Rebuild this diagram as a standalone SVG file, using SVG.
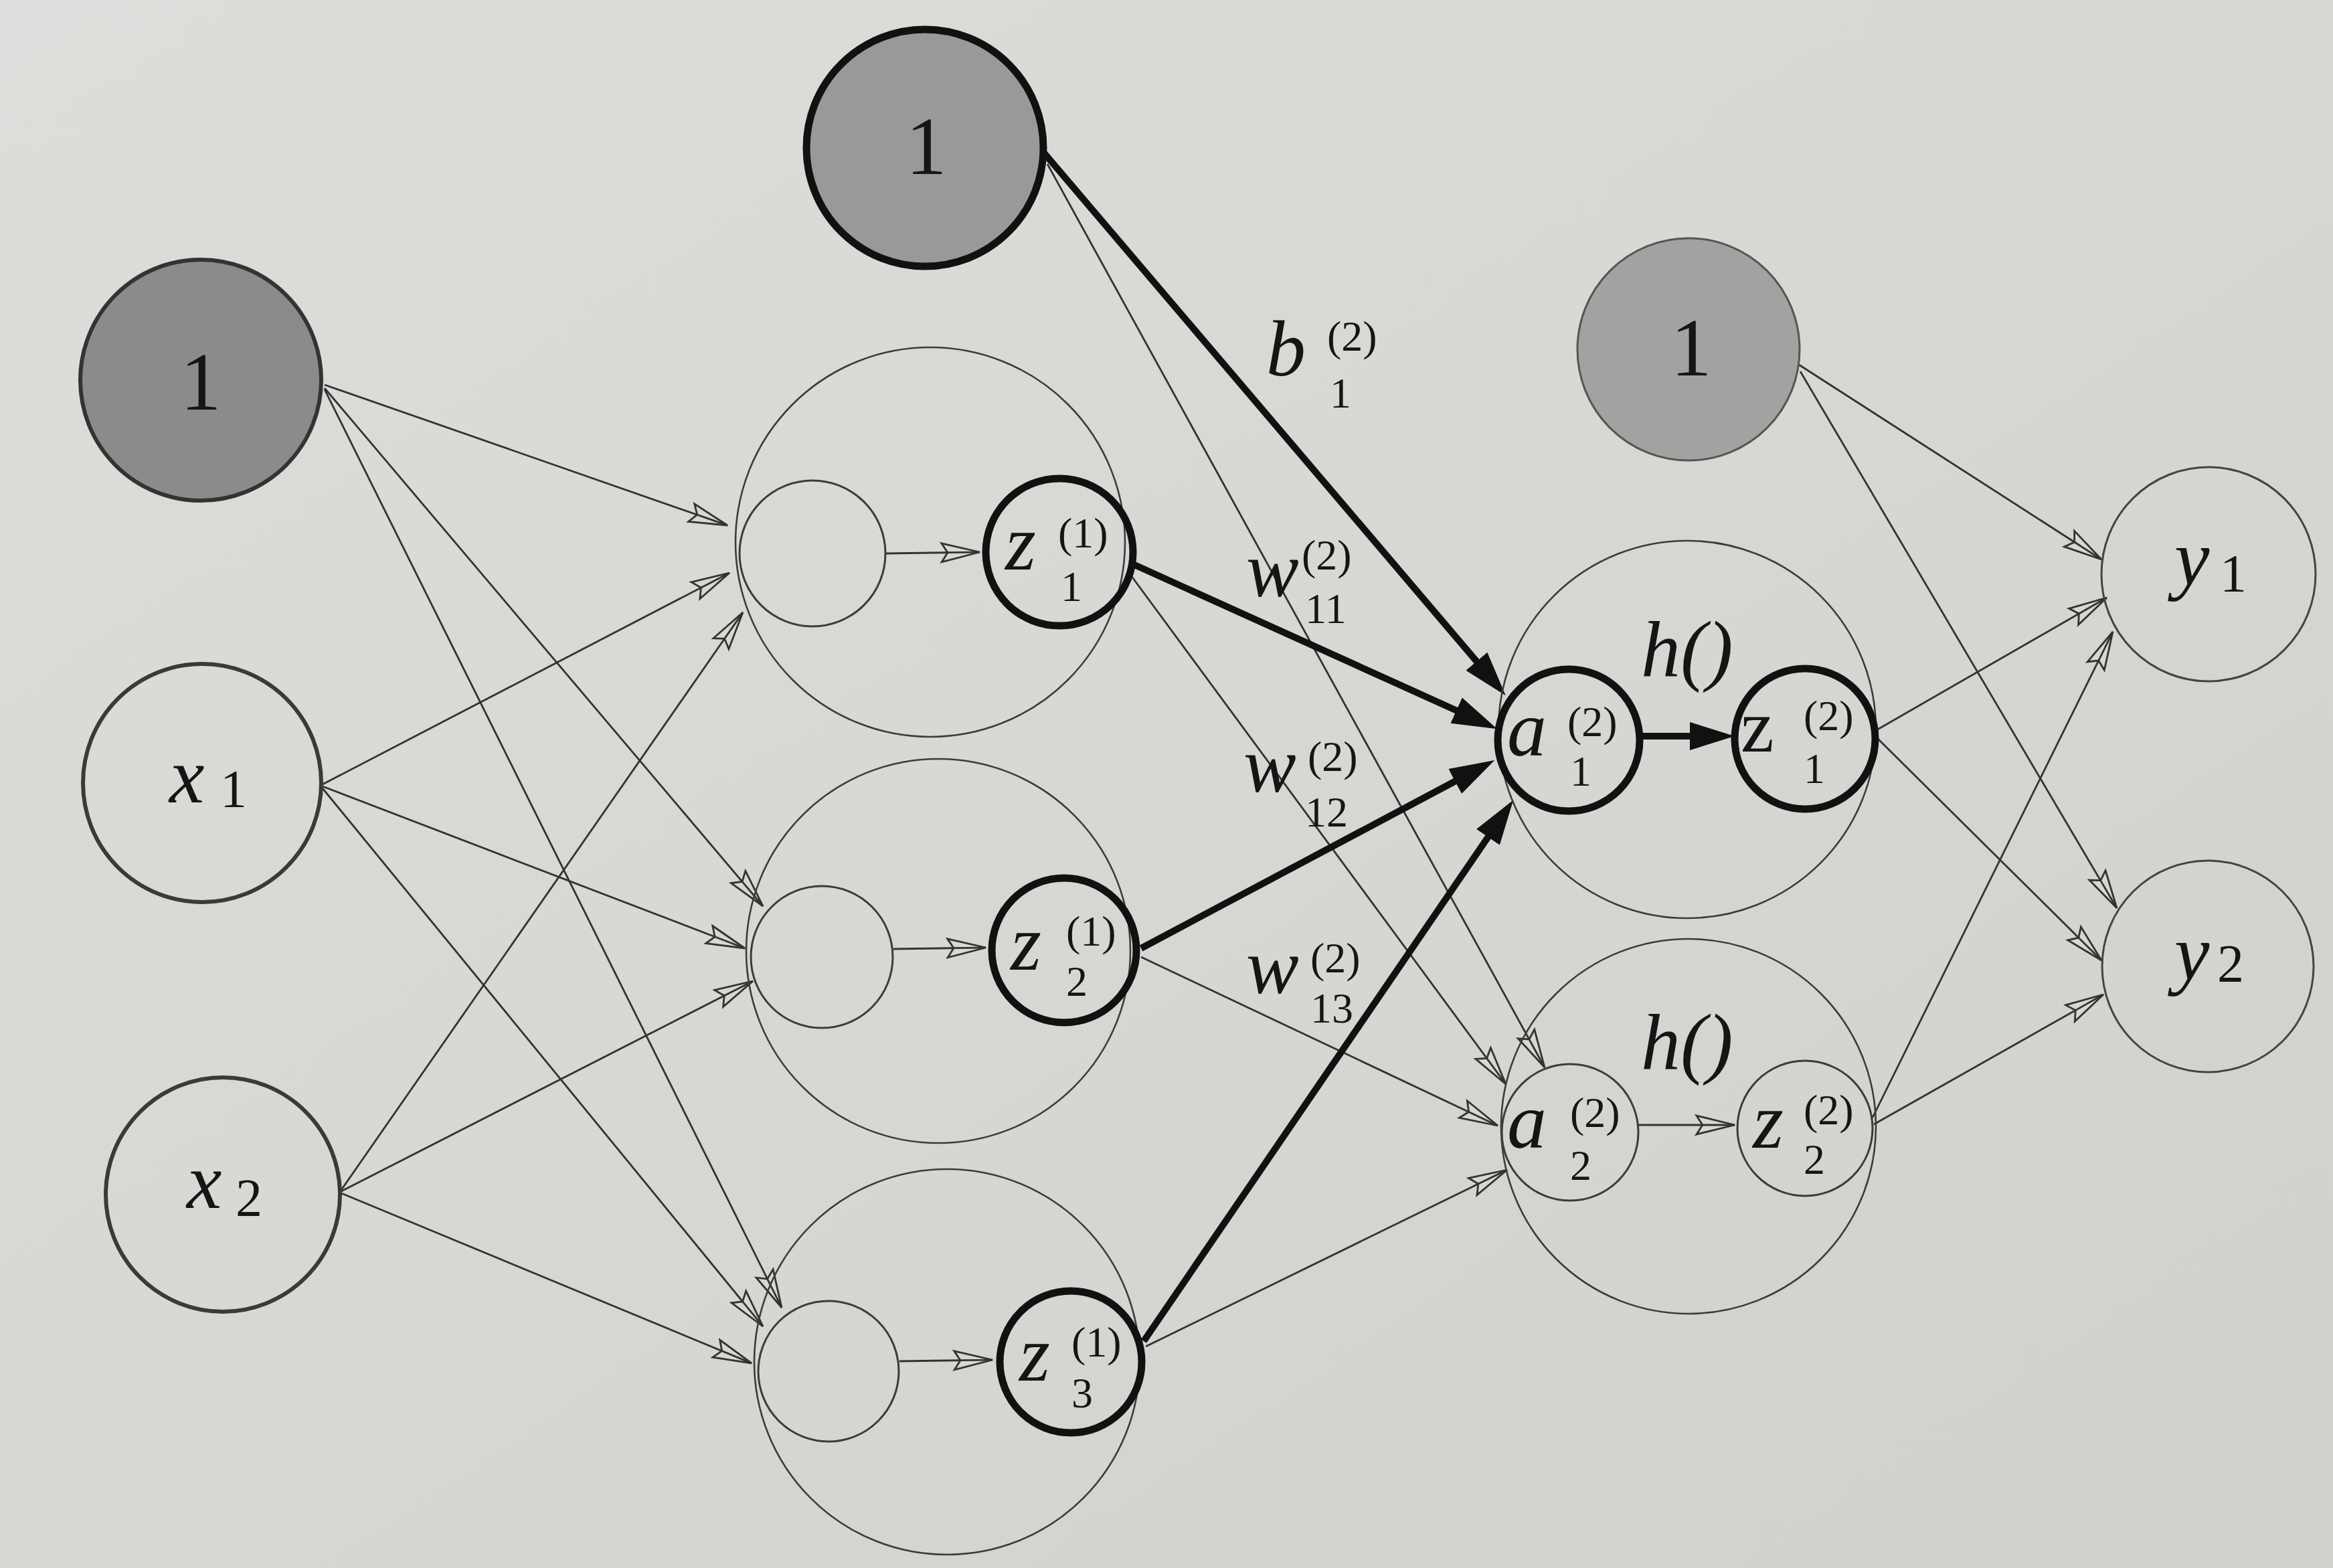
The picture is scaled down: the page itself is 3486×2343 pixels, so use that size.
<svg xmlns="http://www.w3.org/2000/svg" width="3486" height="2343" viewBox="0 0 3486 2343">
<defs>
<linearGradient id="paper" x1="0" y1="0" x2="1" y2="1">
<stop offset="0" stop-color="#dedddb"/>
<stop offset="0.5" stop-color="#d8d7d3"/>
<stop offset="1" stop-color="#d1d0cc"/>
</linearGradient>
<marker id="hollow" markerUnits="userSpaceOnUse" markerWidth="64" markerHeight="34" viewBox="0 0 64 34" refX="60" refY="17" orient="auto">
<path d="M3,3 L60,17 L3,31 L12,17 Z" fill="#d8d7d3" stroke="#333" stroke-width="2.8" stroke-linejoin="miter"/>
<path d="M12,17 L58,17" stroke="#333" stroke-width="2.8"/>
</marker>
<marker id="solid" markerUnits="userSpaceOnUse" markerWidth="68" markerHeight="44" viewBox="0 0 68 44" refX="1" refY="22" orient="auto">
<path d="M0,1 L67,22 L0,43 Z" fill="#111"/>
</marker>
</defs>
<style>
.thin{fill:none;stroke:#333;stroke-width:2.8;marker-end:url(#hollow)}
.thick{fill:none;stroke:#111;stroke-width:10;marker-end:url(#solid)}
.outer{fill:none;stroke:#3c3c3c;stroke-width:2.6}
.inner{fill:none;stroke:#3c3c3c;stroke-width:3}
.bold{fill:none;stroke:#111;stroke-width:11}
.input{fill:none;stroke:#3a3a3a;stroke-width:6}
.out{fill:none;stroke:#444;stroke-width:3}
text{font-family:"Liberation Serif","Times New Roman",serif;fill:#151515}
.it{font-style:italic;font-size:118px}
.num{font-size:122px}
.sup{font-size:64px}
.sub{font-size:80px}
</style>
<rect x="0" y="0" width="3486" height="2343" fill="url(#paper)"/>

<g id="connectors">
<line class="thin" x1="485" y1="575" x2="1087" y2="785"/>
<line class="thin" x1="485" y1="580" x2="1140" y2="1354"/>
<line class="thin" x1="485" y1="582" x2="1168" y2="1954"/>
<line class="thin" x1="482" y1="1172" x2="1090" y2="856"/>
<line class="thin" x1="482" y1="1175" x2="1113" y2="1417"/>
<line class="thin" x1="482" y1="1178" x2="1140" y2="1982"/>
<line class="thin" x1="510" y1="1778" x2="1110" y2="915"/>
<line class="thin" x1="510" y1="1780" x2="1125" y2="1466"/>
<line class="thin" x1="510" y1="1783" x2="1123" y2="2037"/>
<line class="thin" x1="1324" y1="827" x2="1464" y2="825"/>
<line class="thin" x1="1335" y1="1418" x2="1473" y2="1416"/>
<line class="thin" x1="1344" y1="2034" x2="1483" y2="2032"/>
<line class="thin" x1="1565" y1="245" x2="2308" y2="1595"/>
<line class="thin" x1="1690" y1="860" x2="2250" y2="1620"/>
<line class="thin" x1="1705" y1="1430" x2="2238" y2="1682"/>
<line class="thin" x1="1712" y1="2012" x2="2252" y2="1748"/>
<line class="thin" x1="2448" y1="1681" x2="2592" y2="1681"/>
<line class="thin" x1="2688" y1="545" x2="3140" y2="836"/>
<line class="thin" x1="2690" y1="555" x2="3163" y2="1357"/>
<line class="thin" x1="2802" y1="1092" x2="3148" y2="893"/>
<line class="thin" x1="2806" y1="1104" x2="3140" y2="1435"/>
<line class="thin" x1="2798" y1="1670" x2="3157" y2="944"/>
<line class="thin" x1="2800" y1="1680" x2="3143" y2="1486"/>
<line class="thick" x1="1557" y1="225" x2="2207" y2="989"/>
<line class="thick" x1="1693" y1="843" x2="2177" y2="1062"/>
<line class="thick" x1="1705" y1="1417" x2="2175" y2="1167"/>
<line class="thick" x1="1709" y1="2004" x2="2224" y2="1250"/>
<line class="thick" x1="2450" y1="1100" x2="2526" y2="1100"/>
</g>

<g id="bias1">
<circle cx="300" cy="568" r="180" fill="#8b8b89" stroke="#333" stroke-width="6"/>
<text class="num" x="300" y="612" text-anchor="middle">1</text>
</g>
<g id="x1">
<circle class="input" cx="302" cy="1170" r="178"/>
<text class="it" x="253" y="1199" font-size="120">x</text>
<text class="sub" x="329" y="1206">1</text>
</g>
<g id="x2">
<circle class="input" cx="333" cy="1785" r="175"/>
<text class="it" x="279" y="1805">x</text>
<text class="sub" x="352" y="1817">2</text>
</g>

<g id="bias2">
<circle cx="1382" cy="221" r="177" fill="#999997" stroke="#111" stroke-width="11"/>
<text class="num" x="1384" y="260" text-anchor="middle">1</text>
</g>

<g id="hidden1-1">
<circle class="outer" cx="1390" cy="810" r="291"/>
<circle class="inner" cx="1214" cy="827" r="109"/>
<circle class="bold" cx="1583" cy="825" r="110"/>
<text class="it" x="1502" y="851">z</text>
<text class="sup" x="1581" y="818">(1)</text>
<text class="sup" x="1585" y="898">1</text>
</g>
<g id="hidden1-2">
<circle class="outer" cx="1402" cy="1421" r="287"/>
<circle class="inner" cx="1228" cy="1430" r="106"/>
<circle class="bold" cx="1590" cy="1420" r="108"/>
<text class="it" x="1510" y="1449">z</text>
<text class="sup" x="1593" y="1413">(1)</text>
<text class="sup" x="1593" y="1488">2</text>
</g>
<g id="hidden1-3">
<circle class="outer" cx="1415" cy="2035" r="288"/>
<circle class="inner" cx="1238" cy="2049" r="105"/>
<circle class="bold" cx="1600" cy="2035" r="106"/>
<text class="it" x="1523" y="2063">z</text>
<text class="sup" x="1601" y="2027">(1)</text>
<text class="sup" x="1601" y="2103">3</text>
</g>

<g id="bias3">
<circle cx="2523" cy="522" r="166" fill="#a2a2a0" stroke="#555" stroke-width="3"/>
<text class="num" x="2527" y="561" text-anchor="middle">1</text>
</g>

<g id="hidden2-1">
<circle class="outer" cx="2521" cy="1090" r="282"/>
<circle class="bold" cx="2344" cy="1106" r="106"/>
<circle class="bold" cx="2697" cy="1104" r="105"/>
<text class="it" x="2452" y="1010">h()</text>
<text class="it" x="2252" y="1129">a</text>
<text class="sup" x="2342" y="1100">(2)</text>
<text class="sup" x="2346" y="1174">1</text>
<text x="2601" y="1123" font-size="112">z</text>
<text class="sup" x="2695" y="1091">(2)</text>
<text class="sup" x="2695" y="1170">1</text>
</g>
<g id="hidden2-2">
<circle class="outer" cx="2523" cy="1683" r="280"/>
<circle class="inner" cx="2346" cy="1692" r="102"/>
<circle class="inner" cx="2697" cy="1686" r="101"/>
<text class="it" x="2452" y="1597">h()</text>
<text class="it" x="2252" y="1715">a</text>
<text class="sup" x="2346" y="1684">(2)</text>
<text class="sup" x="2346" y="1763">2</text>
<text class="it" x="2619" y="1715">z</text>
<text class="sup" x="2695" y="1680">(2)</text>
<text class="sup" x="2695" y="1754">2</text>
</g>

<g id="y1">
<circle class="out" cx="3300" cy="858" r="160"/>
<text class="it" x="3249" y="874">y</text>
<text class="sub" x="3317" y="884">1</text>
</g>
<g id="y2">
<circle class="out" cx="3299" cy="1444" r="158"/>
<text class="it" x="3249" y="1464">y</text>
<text class="sub" x="3313" y="1467">2</text>
</g>

<g id="labels">
<text class="it" x="1892" y="561">b</text>
<text class="sup" x="1983" y="524">(2)</text>
<text class="sup" x="1987" y="609">1</text>
<text class="it" x="1862" y="891">w</text>
<text class="sup" x="1945" y="851">(2)</text>
<text class="sup" x="1950" y="931">11</text>
<text class="it" x="1858" y="1183">w</text>
<text class="sup" x="1954" y="1152">(2)</text>
<text class="sup" x="1950" y="1235">12</text>
<text class="it" x="1862" y="1484">w</text>
<text class="sup" x="1958" y="1453">(2)</text>
<text class="sup" x="1958" y="1528">13</text>
</g>
</svg>
